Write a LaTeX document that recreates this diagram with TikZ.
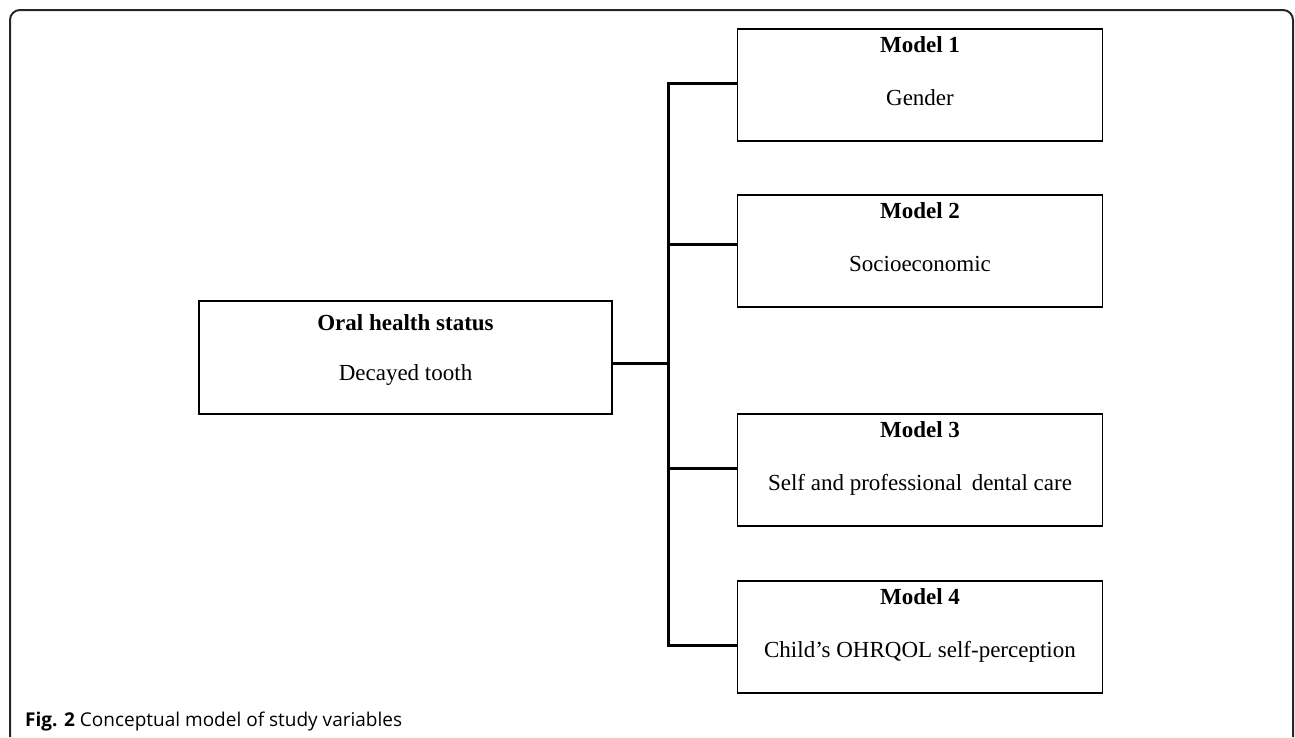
\documentclass[tikz,border=0pt]{standalone}
\usepackage{fontspec}
\setmainfont{Liberation Serif}
\newfontfamily\capfont{Open Sans}
\usepackage{tikz}
\usetikzlibrary{positioning}
\tikzset{
  modelbox/.style={rectangle,draw=black,line width=1.8pt,minimum width=365pt,inner sep=0pt,text height=76pt,text depth=36pt,font=\fontsize{23}{27}\selectfont},
  statusbox/.style={rectangle,draw=black,line width=2.8pt,minimum width=413pt,inner sep=0pt,text height=79pt,text depth=34pt,font=\fontsize{23}{27}\selectfont},
  boxtitle/.style={anchor=north,inner sep=0pt,font=\fontsize{23}{27}\selectfont\bfseries},
  link/.style={line width=3pt},
  frame/.style={line width=2pt,draw=black!85,rounded corners=10pt}
}

\begin{document}
\begin{tikzpicture}[x=1pt,y=-1pt]
  \useasboundingbox (0,0) rectangle (1295,737);
  \draw[frame] (10,737) -- (10,10) -- (1293,10) -- (1293,737);

  \node[statusbox,label={[boxtitle,yshift=-14.5pt]north:Oral health status}] (status) at (405.5,357.5) {Decayed tooth};
  \node[modelbox,label={[boxtitle,yshift=-8.5pt]north:Model 1}] (m1) at (920,85) {Gender};
  \node[modelbox,label={[boxtitle,yshift=-8.5pt]north:Model 2}] (m2) at (920,251) {Socioeconomic};
  \node[modelbox,label={[boxtitle,yshift=-8.5pt]north:Model 3}] (m3) at (920,470) {Self and professional\, dental care};
  \node[modelbox,label={[boxtitle,yshift=-8.5pt]north:Model 4}] (m4) at (920,637) {Child's OHRQOL self-perception};

  \coordinate (j1) at (668,83);
  \coordinate (j2) at (668,244);
  \coordinate (j0) at (668,363);
  \coordinate (j3) at (668,468);
  \coordinate (j4) at (668,645);
  \draw[link] (m1.west |- j1) -- (j1) -- (j4) -- (m4.west |- j4);
  \draw[link] (j2) -- (m2.west |- j2);
  \draw[link] (j3) -- (m3.west |- j3);
  \draw[link] (status.east |- j0) -- (j0);

  \node[anchor=base west,inner sep=0pt,font=\capfont\fontsize{19}{22}\selectfont] (caption) at (25,726) {\textbf{Fig. 2} Conceptual model of study variables};
\end{tikzpicture}
\end{document}
